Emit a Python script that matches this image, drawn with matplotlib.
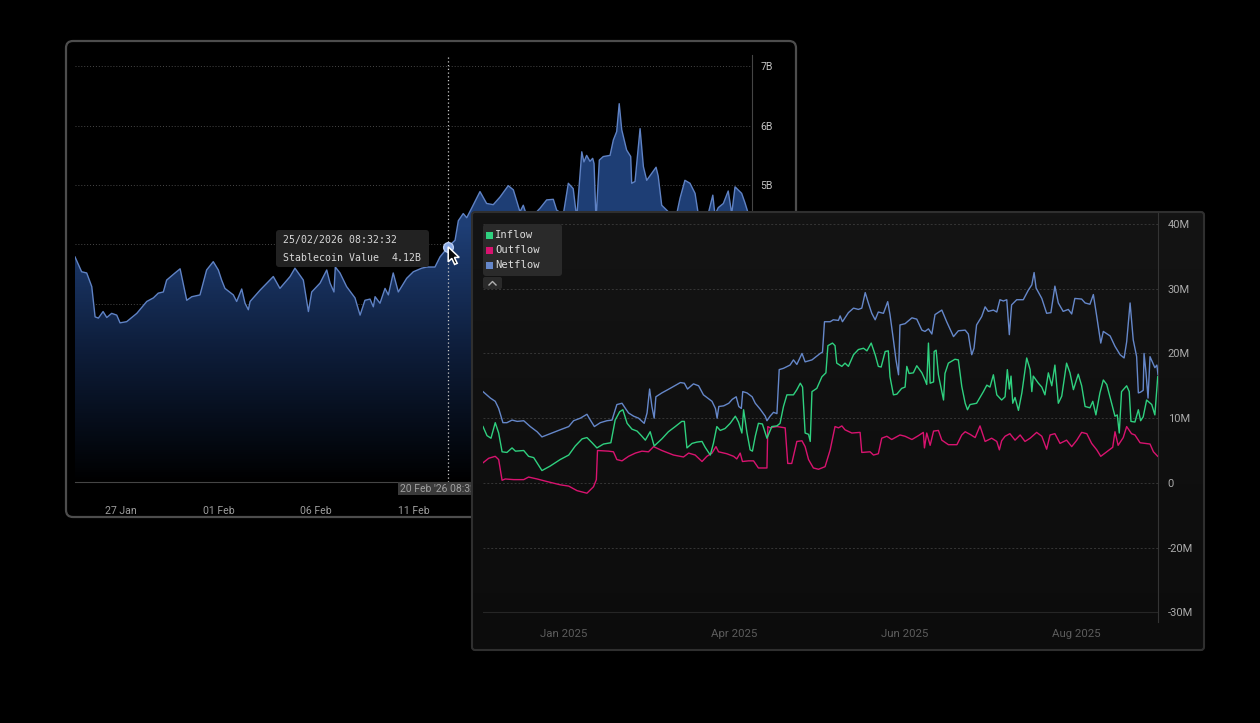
import numpy as np
import matplotlib
matplotlib.use("Agg")
import matplotlib.pyplot as plt
import matplotlib.transforms as mtransforms
from matplotlib.patches import FancyBboxPatch, PathPatch, Polygon, Rectangle
from matplotlib.lines import Line2D
from matplotlib.colors import LinearSegmentedColormap

# ---- back chart: stablecoin value (days since 27 Jan, billions) ----
back_days = [-2.36, -2.02, -1.76, -1.50, -1.33, -1.16, -0.92, -0.73, -0.48, -0.22, -0.05, 0.29, 0.81,
             1.32, 1.66, 1.91, 2.17, 2.34, 2.77, 3.03, 3.37, 3.63, 4.05, 4.39, 4.73, 4.99, 5.16, 5.33,
             5.76, 5.93, 6.19, 6.36, 6.53, 6.62, 7.13, 7.81, 8.15, 8.67, 8.92, 9.35, 9.61, 9.78, 10.21,
             10.55, 10.72, 10.92, 10.99, 11.23, 11.57, 12.00, 12.26, 12.51, 12.77, 12.94, 13.03, 13.28,
             13.54, 13.71, 13.96, 14.22, 14.65, 14.99, 15.42, 15.68, 16.10, 16.36, 16.78, 17.13, 17.30,
             17.55, 17.73, 17.98, 18.41, 18.75, 19.09, 19.44, 19.86, 20.12, 20.46, 20.63, 20.89, 21.49,
             21.83, 22.17, 22.34, 22.68, 22.94, 23.19, 23.37, 23.63, 23.74, 23.88, 24.05, 24.19, 24.26,
             24.36, 24.53, 24.73, 25.08, 25.25, 25.42, 25.55, 25.68, 25.93, 26.14, 26.19, 26.36, 26.62,
             26.79, 26.96, 27.44, 27.55, 27.73, 28.07, 28.36, 28.67, 28.92, 29.18, 29.44, 29.61, 29.95,
             30.35, 30.46, 30.63, 30.89, 31.14, 31.32, 31.49, 31.83, 32.00, 32.17, 32.36]
back_vals = [3.79, 3.54, 3.52, 3.29, 2.78, 2.76, 2.87, 2.77, 2.84, 2.81, 2.68, 2.70, 2.84,
             3.04, 3.10, 3.18, 3.20, 3.40, 3.52, 3.59, 3.06, 3.12, 3.15, 3.57, 3.71, 3.57, 3.40, 3.26,
             3.15, 3.04, 3.25, 3.01, 2.90, 3.04, 3.23, 3.46, 3.26, 3.46, 3.60, 3.40, 2.87, 3.20, 3.35,
             3.57, 3.35, 3.20, 3.62, 3.52, 3.29, 3.10, 2.81, 3.06, 3.08, 2.95, 3.12, 3.01,
             3.26, 3.15, 3.52, 3.20, 3.43, 3.54, 3.60, 3.62, 3.62, 3.79, 3.96, 4.07, 4.40,
             4.52, 4.45, 4.61, 4.89, 4.69, 4.67, 4.80, 4.99, 4.92, 4.55, 4.66, 4.40, 4.61,
             4.75, 4.76, 4.58, 4.50, 5.03, 4.94, 4.45, 5.56, 5.39, 5.50, 5.40, 5.45, 5.36,
             4.40, 5.42, 5.48, 5.50, 5.76, 5.90, 6.37, 5.93, 5.59, 5.48, 5.03, 5.06, 5.95,
             5.31, 5.08, 5.30, 5.15, 4.66, 4.55, 4.30, 4.78, 5.08, 5.03, 4.86, 4.50, 4.30,
             4.83, 4.50, 4.62, 4.69, 4.90, 4.52, 4.97, 4.86, 4.70, 4.52, 4.55]
back_xticks = [0, 5, 10, 15]
back_xlabels = ["27 Jan", "01 Feb", "06 Feb", "11 Feb"]
back_yticks = [0, 1, 2, 3, 4, 5, 6, 7]
back_ylabels = ["0", "1B", "2B", "3B", "4B", "5B", "6B", "7B"]
hover_day, hover_val = 16.78, 3.96
tooltip_lines = ["25/02/2026 08:32:32", "Stablecoin Value", "4.12B"]
cursor_label = "20 Feb '26 08:32"

# ---- front chart: flows (days since 1 Jan 2025, millions) ----
net_days = [-28.2, -25.6, -23.9, -22.7, -21.2, -19.8, -18.0, -16.2, -13.9, -11.6, -9.2, -7.5, -4.6, -1.1,
            1.9, 3.6, 6.0, 8.3, 9.5, 10.9, 13.0, 15.3, 17.1, 18.8, 20.6, 21.8, 22.9, 24.7, 26.4, 28.4,
            29.4, 30.3, 31.1, 31.9, 32.5, 34.6, 37.5, 41.1, 42.5, 43.6, 45.7, 47.5, 49.2, 50.4, 52.2,
            53.4, 54.0, 54.6, 56.3, 58.1, 59.3, 60.7, 61.6, 62.5, 63.0, 64.5, 66.3, 67.4, 69.1, 70.9,
            71.5, 72.6, 73.8, 75.0, 75.8, 77.3, 79.6, 80.8, 82.0, 83.8, 84.9, 87.3, 90.2, 91.0, 91.7,
            93.7, 94.8, 96.6, 97.2, 98.0, 100.1, 101.9, 103.6, 104.8, 106.0, 107.1, 108.3, 109.5, 110.6,
            112.4, 113.9, 114.7, 115.9, 116.8, 117.7, 118.2, 120.0, 122.4, 124.1, 125.9, 127.0, 128.2,
            129.4, 130.5, 132.9, 134.6, 137.0, 138.7, 141.1, 142.2, 142.8, 143.4, 144.2, 145.1, 146.9,
            148.1, 149.2, 151.0, 152.2, 153.3, 154.5, 155.7, 156.6, 157.4, 159.2, 161.5, 163.3, 164.5,
            165.3, 166.0, 168.0, 169.7, 171.2, 172.6, 173.8, 175.5, 177.3, 178.5, 179.6, 182.0, 183.2,
            184.9, 186.1, 187.3, 188.7, 189.6, 192.0, 193.7, 195.5, 196.9, 197.8, 199.0, 200.1, 201.3,
            201.9, 202.6, 203.6, 203.9, 204.6, 205.3, 206.0, 207.0, 207.7, 208.4, 208.8]
net_vals = [14.1, 13.1, 12.6, 11.5, 9.3, 9.3, 9.7, 9.5, 9.6, 8.7, 7.9, 7.1, 7.6, 8.2,
            8.7, 9.6, 10.0, 10.6, 9.7, 8.7, 9.3, 9.6, 9.7, 12.1, 12.3, 11.5, 10.8, 10.3, 10.0, 9.2,
            10.8, 14.5, 11.8, 10.0, 13.3, 13.9, 14.6, 15.5, 15.4, 14.5, 15.3, 15.0, 13.6, 13.2, 12.6,
            11.5, 10.0, 11.8, 11.9, 12.3, 12.9, 13.3, 11.8, 11.5, 14.1, 13.9, 13.3, 12.3, 11.4, 10.3,
            9.6, 10.3, 10.9, 10.7, 17.5, 17.7, 18.2, 19.0, 18.3, 20.0, 18.7, 19.0, 20.0, 20.2, 24.9,
            24.9, 25.2, 25.1, 25.8, 24.9, 26.3, 27.0, 26.8, 27.0, 29.4, 27.8, 26.2, 25.2, 26.4,
            26.2, 28.0, 26.0, 22.1, 19.0, 16.7, 24.4, 24.6, 25.5, 25.3, 23.6, 23.4, 23.8,
            23.0, 26.0, 26.7, 24.9, 22.6, 23.5, 23.6, 23.0, 21.3, 19.8, 20.8, 24.4, 25.7,
            27.2, 26.5, 26.7, 26.4, 28.3, 28.1, 28.3, 22.9, 27.5, 28.3, 28.3, 29.8, 30.6,
            32.5, 30.1, 28.5, 26.2, 26.3, 30.4, 27.8, 26.5, 26.8, 26.1, 28.5, 28.4, 27.8,
            27.6, 29.1, 25.7, 21.6, 23.4, 22.7, 21.1, 19.8, 19.3, 21.8, 27.8, 22.1, 19.5,
            13.9, 14.0, 14.3, 20.0, 17.0, 13.1, 19.5, 18.5, 17.8, 18.2, 16.7]

in_days = [-28.2, -26.8, -25.4, -23.9, -22.7, -21.5, -19.8, -18.0, -16.8, -13.9, -12.2, -10.4, -7.5, -4.6,
           -1.1, 1.9, 4.2, 6.6, 8.3, 10.1, 11.8, 14.1, 16.7, 18.2, 19.8, 20.9, 22.4, 24.1, 25.9, 27.4,
           28.8, 30.5, 31.9, 34.6, 36.9, 39.3, 41.6, 42.5, 43.4, 45.2, 46.9, 48.7, 49.8, 51.6, 52.7,
           53.9, 55.1, 56.8, 58.6, 60.4, 61.5, 62.7, 63.3, 64.5, 65.6, 66.4, 67.4, 68.5, 69.9, 71.5,
           73.2, 75.0, 76.1, 77.3, 78.5, 80.8, 82.0, 83.2, 84.0, 84.9, 86.1, 86.7, 87.3, 89.0, 90.8,
           92.2, 92.9, 94.5, 95.4, 96.0, 97.8, 98.9, 100.1, 101.9, 103.6, 105.4, 106.6, 108.1, 109.5,
           110.6, 111.6, 113.0, 114.1, 114.7, 115.9, 117.1, 118.8, 120.0, 120.6, 121.4, 122.9, 124.1,
           125.9, 127.0, 127.6, 128.2, 128.8, 130.0, 130.2, 130.9, 131.7, 133.5, 134.0, 135.2, 137.5,
           138.7, 139.9, 141.1, 141.9, 142.8, 145.1, 147.5, 148.7, 149.8, 151.0, 152.2, 153.9, 155.1,
           155.9, 156.6, 157.2, 157.8, 158.6, 159.8, 161.0, 162.7, 163.9, 164.5, 165.0, 166.8, 168.0,
           169.1, 170.3, 171.5, 172.6, 173.8, 175.0, 176.7, 177.9, 179.1, 180.8, 182.0, 183.2, 184.9,
           185.9, 187.0, 188.4, 189.6, 190.8, 192.5, 193.7, 194.5, 195.2, 196.0, 197.8, 198.7, 199.3,
           200.7, 201.9, 202.7, 203.6, 204.8, 206.6, 207.7, 208.7]
in_vals = [8.7, 7.3, 6.9, 9.3, 7.7, 4.8, 4.7, 5.4, 4.9, 5.0, 4.1, 3.9, 1.9, 2.6,
           3.6, 4.3, 5.7, 6.8, 7.0, 6.2, 5.4, 6.0, 6.2, 9.7, 11.0, 11.3, 9.2, 8.3, 8.0, 7.3,
           6.6, 7.9, 5.7, 6.8, 7.9, 8.7, 9.5, 9.5, 5.4, 6.1, 6.3, 6.4, 5.5, 4.3, 6.1,
           8.7, 8.1, 8.4, 9.2, 10.3, 9.4, 7.7, 11.3, 7.7, 5.1, 4.9, 7.2, 9.2, 9.1, 6.9,
           8.7, 8.8, 9.2, 11.8, 13.6, 13.6, 14.4, 15.4, 14.8, 7.7, 7.5, 6.4, 14.1, 14.6, 16.4,
           17.0, 21.2, 21.6, 21.2, 18.5, 18.0, 18.5, 18.0, 19.8, 20.6, 20.8, 20.4, 21.6, 19.8,
           18.0, 17.9, 20.3, 20.4, 16.4, 13.6, 13.7, 14.6, 14.8, 18.0, 16.9, 17.0, 18.1,
           17.0, 15.9, 15.2, 21.6, 15.4, 15.6, 20.3, 20.5, 16.7, 12.8, 16.9, 18.5, 19.1,
           19.0, 14.9, 12.3, 11.3, 12.1, 12.3, 14.1, 15.1, 14.8, 16.7, 13.6, 12.8, 13.3,
           17.5, 14.5, 16.5, 12.3, 13.2, 11.2, 13.9, 19.3, 17.5, 14.1, 16.5, 15.4, 14.8,
           13.6, 17.0, 15.0, 18.2, 12.3, 13.4, 18.5, 17.0, 14.4, 16.8, 15.0, 11.8, 11.6,
           12.6, 10.5, 13.9, 15.9, 15.2, 12.3, 10.3, 10.5, 7.7, 14.1, 15.0, 14.1, 9.5,
           9.4, 11.3, 9.6, 10.2, 12.8, 12.1, 10.5, 16.4]

out_days = [-28.2, -26.2, -23.9, -22.7, -21.5, -20.4, -17.4, -13.9, -12.2, -9.2, -5.7, -1.1, 1.9, 4.8,
            8.3, 10.6, 11.6, 12.0, 15.9, 17.6, 18.8, 20.6, 22.9, 25.3, 27.6, 29.9, 31.7, 34.6, 38.7,
            42.2, 44.0, 46.3, 48.7, 50.4, 52.2, 53.6, 54.5, 57.4, 59.8, 60.9, 62.1, 62.9, 65.0, 66.8,
            68.5, 71.5, 71.8, 72.6, 75.0, 77.9, 78.8, 80.2, 82.0, 83.8, 84.9, 86.1, 87.8, 89.6, 91.9,
            93.7, 95.4, 96.6, 97.8, 98.9, 101.3, 104.2, 104.8, 107.7, 108.9, 110.6, 111.8, 113.6, 115.3,
            118.2, 120.0, 122.4, 124.7, 126.4, 126.8, 127.6, 128.8, 130.0, 131.7, 132.9, 135.2, 138.2,
            139.9, 141.1, 142.8, 144.6, 146.3, 148.1, 150.4, 152.2, 153.1, 153.9, 155.1, 156.8, 158.6,
            160.4, 162.1, 163.9, 166.2, 168.0, 169.7, 170.9, 172.6, 174.4, 176.7, 178.5, 180.3, 182.0,
            183.8, 185.5, 187.3, 188.7, 190.8, 192.9, 193.7, 194.8, 196.6, 197.8, 199.5, 200.7, 202.5,
            206.0, 207.2, 208.7]
out_vals = [3.1, 3.8, 4.1, 3.6, 0.4, 0.6, 0.5, 0.5, 0.9, 0.6, 0.2, -0.3, -0.5, -1.2,
            -1.6, -0.6, 0.5, 5.0, 4.9, 4.8, 3.6, 3.4, 4.1, 4.6, 4.9, 4.8, 5.6, 5.0, 4.3,
            4.0, 4.6, 4.3, 3.3, 4.1, 4.6, 5.6, 4.8, 4.5, 4.1, 3.7, 4.6, 3.3, 3.4, 3.4,
            2.3, 2.3, 8.7, 8.5, 8.7, 8.5, 3.0, 3.0, 6.4, 6.5, 5.6, 3.6, 2.3, 2.1, 2.5,
            5.1, 8.7, 8.5, 8.8, 8.2, 7.7, 7.8, 4.7, 4.8, 4.3, 4.5, 6.9, 7.2, 6.7,
            7.4, 7.2, 6.7, 7.3, 7.8, 5.4, 7.7, 5.8, 8.0, 8.1, 6.6, 5.9, 5.9,
            7.4, 7.9, 7.5, 7.0, 8.8, 6.4, 6.9, 6.4, 5.1, 6.5, 7.2, 7.6, 6.6,
            7.4, 6.4, 6.9, 7.8, 7.2, 5.2, 7.4, 7.6, 6.1, 6.6, 5.6, 6.6, 7.8,
            7.6, 6.1, 5.1, 4.1, 4.8, 5.5, 7.9, 5.8, 7.0, 8.7, 7.6, 7.4, 6.2,
            6.0, 4.8, 4.1]

front_xticks = [0, 60, 120, 180]
front_xlabels = ["Jan 2025", "Apr 2025", "Jun 2025", "Aug 2025"]
front_yticks = [40, 30, 20, 10, 0, -10, -20]
front_ylabels = ["40M", "30M", "20M", "10M", "0", "-20M", "-30M"]
legend_names = ["Inflow", "Outflow", "Netflow"]

GREEN, MAGENTA, BLUE = "#2fd07f", "#d8136f", "#6587c9"
legend_colors = [GREEN, MAGENTA, BLUE]
SANS = ["Roboto", "DejaVu Sans"]
MONO = ["DejaVu Sans Mono"]

W, H = 1260, 723
PIX = mtransforms.IdentityTransform()


def box(x0, y0, x1, y1):
    # pixel box (y down) -> figure fraction rect
    return [x0 / W, 1 - y1 / H, (x1 - x0) / W, (y1 - y0) / H]


fig = plt.figure(figsize=(W / 100, H / 100), dpi=100, facecolor="black")

# back panel frame
fig.add_artist(FancyBboxPatch((66, H - 517), 730, 476, boxstyle="round,pad=0,rounding_size=7",
                              transform=PIX, facecolor="black", edgecolor="#4d4d4d", lw=1.6, zorder=-1))

ax1 = fig.add_axes(box(75, 55, 752, 482), zorder=0.5)
ax1.set_facecolor("none")
ax1.set_xlim(-2.36, 32.36)
ax1.set_ylim(0, 7.19)
for v in back_yticks[1:]:
    ax1.axhline(v, color="#474747", lw=0.7, ls=(0, (1, 2)), zorder=1)

# gradient area
poly = ax1.fill_between(back_days, 0, back_vals, facecolor="none", edgecolor="none")
clip = PathPatch(poly.get_paths()[0], transform=ax1.transData, facecolor="none", edgecolor="none")
ax1.add_patch(clip)
cmap = LinearSegmentedColormap.from_list("blue", ["#000000", "#0d1c38", "#1e3e75"])
grad = np.linspace(0, 1, 256).reshape(-1, 1)
im = ax1.imshow(grad, extent=[-2.36, 32.36, 0, 4.3], origin="lower", aspect="auto", cmap=cmap, zorder=2)
im.set_clip_path(clip)
top = ax1.imshow(np.ones((2, 2)), extent=[-2.36, 32.36, 4.3, 7.19], origin="lower", aspect="auto",
                 cmap=LinearSegmentedColormap.from_list("t", ["#1e3e75", "#1e3e75"]), zorder=2)
top.set_clip_path(clip)
ax1.plot(back_days, back_vals, color="#5f82c4", lw=1.0, zorder=3)

ax1.axvline(hover_day, color="#c8c8c8", lw=0.9, ls=(0, (1, 2)), zorder=4)
ax1.plot(hover_day, hover_val, "o", ms=7, mfc="#8aaae6", mec="#b9cdf3", mew=1, zorder=5)

for s in ["top", "left"]:
    ax1.spines[s].set_visible(False)
ax1.spines["right"].set_color("#454545")
ax1.spines["bottom"].set_color("#454545")
ax1.yaxis.tick_right()
ax1.set_yticks(back_yticks, back_ylabels)
ax1.set_xticks(back_xticks, back_xlabels)
ax1.tick_params(axis="y", length=0, pad=6, labelsize=7.6, labelcolor="#c4c4c4")
ax1.tick_params(axis="x", length=0, pad=17, labelsize=7.6, labelcolor="#9c9c9c")
for t in ax1.get_xticklabels() + ax1.get_yticklabels():
    t.set_family(SANS)

# cursor date label on the x axis
ax1.annotate(cursor_label, (hover_day, 0), xytext=(-48, -6.5), textcoords="offset pixels",
             ha="left", va="center", fontsize=7.5, color="#a0a0a0", family=SANS,
             bbox=dict(boxstyle="square,pad=0.18", fc="#3a3a3a", ec="none"), annotation_clip=False)

# mouse pointer at the hover point
arrow = [(0, 0), (0, 15), (3.6, 11.6), (6.4, 17.6), (9, 16.5), (6.2, 10.6), (11, 10.6)]
arrow_tr = mtransforms.Affine2D().scale(1, -1) + mtransforms.ScaledTranslation(hover_day, hover_val, ax1.transData)
ax1.add_patch(Polygon(arrow, closed=True, transform=arrow_tr, facecolor="#0a0a0a", edgecolor="white",
                      lw=1.1, clip_on=False, zorder=6))

# tooltip
fig.add_artist(FancyBboxPatch((276, H - 267), 153, 37, boxstyle="round,pad=0,rounding_size=3",
                              transform=PIX, facecolor="#222222", edgecolor="none", zorder=3))
fig.text(283 / W, 1 - 240.5 / H, tooltip_lines[0], family=MONO, fontsize=7.1, color="#d8d8d8", va="center")
fig.text(283 / W, 1 - 257.5 / H, tooltip_lines[1], family=MONO, fontsize=7.1, color="#d8d8d8", va="center")
fig.text(422 / W, 1 - 257.5 / H, tooltip_lines[2], family=MONO, fontsize=7.1, color="#d8d8d8",
         va="center", ha="right")

# ---- front panel ----
ax_bg = fig.add_axes(box(472, 212, 1204, 650), zorder=1)
ax_bg.imshow(np.linspace(0, 1, 100).reshape(-1, 1), aspect="auto", extent=[0, 1, 0, 1],
             cmap=LinearSegmentedColormap.from_list("bg", ["#141414", "#0c0c0c"]))
ax_bg.set_axis_off()
fig.add_artist(FancyBboxPatch((472, H - 650), 732, 438, boxstyle="round,pad=0,rounding_size=3",
                              transform=PIX, facecolor="none", edgecolor="#2f2f2f", lw=1.5, zorder=1.5))

ax2 = fig.add_axes(box(483, 213, 1158, 622), zorder=2)
ax2.set_facecolor("none")
ax2.set_xlim(-28.2, 208.8)
ax2.set_ylim(-21.5, 41.7)
for v in front_yticks[:-1]:
    ax2.axhline(v, color="#363636", lw=0.7, ls=(0, (2, 2)), zorder=1)
ax2.axhline(front_yticks[-1], color="#262626", lw=0.8, zorder=1)

ax2.plot(out_days, out_vals, color=MAGENTA, lw=1.0, zorder=3)
ax2.plot(in_days, in_vals, color=GREEN, lw=1.0, zorder=3)
ax2.plot(net_days, net_vals, color=BLUE, lw=1.0, zorder=3)

for s in ["top", "left", "bottom"]:
    ax2.spines[s].set_visible(False)
ax2.spines["right"].set_color("#343434")
ax2.yaxis.tick_right()
ax2.set_yticks(front_yticks, front_ylabels)
ax2.set_xticks(front_xticks, front_xlabels)
ax2.tick_params(axis="y", length=0, pad=7, labelsize=8, labelcolor="#aaaaaa")
ax2.tick_params(axis="x", length=0, pad=5, labelsize=8.2, labelcolor="#5c5c5c")
for t in ax2.get_xticklabels() + ax2.get_yticklabels():
    t.set_family(SANS)

# legend box
fig.add_artist(FancyBboxPatch((483, H - 276), 79, 52, boxstyle="round,pad=0,rounding_size=3",
                              transform=PIX, facecolor="#2a2a2a", edgecolor="none", zorder=4))
for i, (name, col) in enumerate(zip(legend_names, legend_colors)):
    yc = 235 + 15 * i
    fig.add_artist(Rectangle((486, H - yc - 3.5), 7, 7, transform=PIX, facecolor=col, edgecolor="none", zorder=5))
    fig.text(495 / W, 1 - yc / H, name, family=MONO, fontsize=7.6, color="#dcdcdc", va="center", zorder=5)

# collapse button
fig.add_artist(FancyBboxPatch((483, H - 289), 19, 12, boxstyle="round,pad=0,rounding_size=2",
                              transform=PIX, facecolor="#2a2a2a", edgecolor="none", zorder=4))
fig.add_artist(Line2D([489, 492.5, 496], [H - 285, H - 281.5, H - 285], transform=PIX,
                      color="#b0b0b0", lw=1.0, zorder=5))

fig.savefig("out.png", dpi=100, facecolor="black")
